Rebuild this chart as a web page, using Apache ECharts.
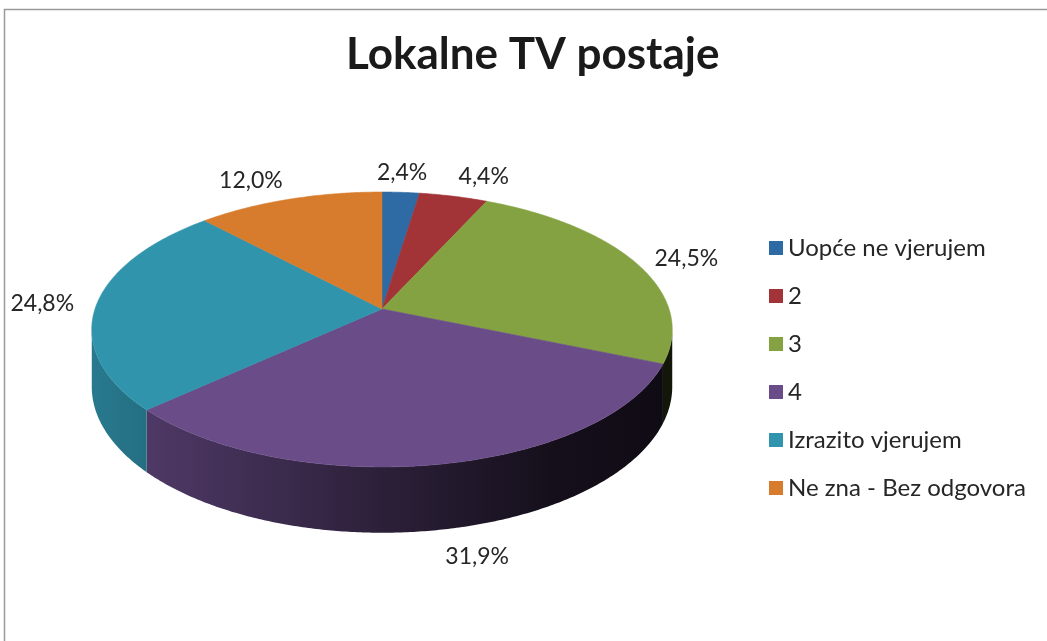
<!DOCTYPE html>
<html>
<head>
<meta charset="utf-8">
<script src="https://cdn.jsdelivr.net/npm/echarts@6/dist/echarts.min.js"></script>
<style>
  html, body { margin: 0; padding: 0; background: #fff; }
  #pie-chart { width: 1047px; height: 641px; }
</style>
</head>
<body>
<div id="pie-chart"></div>
<script>
// data
const categories = ['Uopće ne vjerujem', '2', '3', '4', 'Izrazito vjerujem', 'Ne zna - Bez odgovora'];
const shares = [2.4, 4.4, 24.5, 31.9, 24.8, 12.0];
const colors = ['#2E6AA3', '#A23337', '#84A242', '#694C88', '#3194AD', '#D77C2C'];

const total = shares.reduce((s, v) => s + v, 0);
const starts = shares.map((v, i) => shares.slice(0, i).reduce((s, x) => s + x, 0));

// fake 3d pie geometry (perspective tilted disk)
const CX = 382, CY = 309, RX = 287, RY = 134.4, PERSP = 0.149, DEPTH = 56;
const FONT = 'Lato, "Noto Sans", sans-serif';

function project(phiDeg, r) {
    const rad = phiDeg * Math.PI / 180;
    const u = r * Math.sin(rad);
    const v = -r * Math.cos(rad);
    const s = 1 / (1 - PERSP * v);
    return { x: CX + RX * u * s, y: CY + RY * v * s, s: s, u: u, v: v };
}

function shade(hex, f) {
    const n = parseInt(hex.slice(1), 16);
    const r = Math.round(((n >> 16) & 255) * f);
    const g = Math.round(((n >> 8) & 255) * f);
    const b = Math.round((n & 255) * f);
    return 'rgb(' + r + ',' + g + ',' + b + ')';
}

// silhouette of the rim, where the side wall starts being visible
const visFrom = Math.acos(-PERSP) * 180 / Math.PI;
const visTo = 360 - visFrom;

function makeRender(idx) {
    return function (params, api) {
        const val = api.value(0);
        const start = api.value(1);
        const a = start / total * 360;
        const b = (start + val) / total * 360;
        const color = colors[idx];
        const children = [];

        // outer side wall
        const wa = Math.max(a, visFrom), wb = Math.min(b, visTo);
        if (wb > wa) {
            const topPts = [], botPts = [];
            let p = wa;
            while (true) {
                const q = project(p, 1);
                topPts.push([q.x, q.y]);
                botPts.push([q.x, q.y + DEPTH * q.s]);
                if (p >= wb) break;
                p = Math.min(p + 0.5, wb);
            }
            const pts = topPts.concat(botPts.reverse());
            children.push({
                type: 'polygon',
                shape: { points: pts },
                style: {
                    fill: {
                        type: 'linear', x: CX - RX, y: 0, x2: CX + RX, y2: 0, global: true,
                        colorStops: [
                            { offset: 0, color: shade(color, 0.82) },
                            { offset: 0.5, color: shade(color, 0.42) },
                            { offset: 0.8, color: shade(color, 0.2) },
                            { offset: 1, color: shade(color, 0.14) }
                        ]
                    },
                    stroke: null
                }
            });
        }

        // top face
        const face = [[CX, CY]];
        for (let p = a; p < b; p += 0.5) {
            const q = project(p, 1);
            face.push([q.x, q.y]);
        }
        const qe = project(b, 1);
        face.push([qe.x, qe.y]);
        children.push({
            type: 'polygon',
            shape: { points: face },
            style: { fill: color, stroke: color, lineWidth: 0.6 }
        });

        // data label outside the slice
        const mid = (a + b) / 2;
        const lq = project(mid, 1.08);
        let ly = lq.y;
        if (mid > visFrom && mid < visTo) ly += DEPTH * lq.s;
        const align = lq.u > 0.15 ? 'left' : (lq.u < -0.15 ? 'right' : 'center');
        const vAlign = lq.v < -0.5 ? 'bottom' : (lq.v > 0.5 ? 'top' : 'middle');
        children.push({
            type: 'text',
            style: {
                text: val.toFixed(1).replace('.', ',') + '%',
                x: lq.x, y: ly,
                align: align, verticalAlign: vAlign,
                fontSize: 23, fontFamily: FONT, fill: '#262626'
            }
        });

        return { type: 'group', children: children };
    };
}

const pieChart = echarts.init(document.getElementById('pie-chart'), null, { renderer: 'canvas' });

const option = {
    animation: false,
    backgroundColor: '#fff',
    title: {
        text: 'Lokalne TV postaje',
        left: 346,
        top: 33,
        padding: 0,
        textStyle: { fontFamily: FONT, fontSize: 44, fontWeight: 'bold', color: '#1a1a1a' }
    },
    legend: {
        orient: 'vertical',
        left: 769,
        top: 236,
        padding: 0,
        icon: 'rect',
        itemWidth: 14,
        itemHeight: 14,
        itemGap: 24,
        selectedMode: false,
        textStyle: { fontFamily: FONT, fontSize: 24, color: '#262626', lineHeight: 24 },
        data: categories
    },
    graphic: [{
        type: 'rect',
        shape: { x: 4.5, y: 9.5, width: 1200, height: 800 },
        style: { fill: null, stroke: '#9a9a9a', lineWidth: 1.5 },
        silent: true
    }],
    series: categories.map((name, i) => ({
        type: 'custom',
        name: name,
        coordinateSystem: 'none',
        itemStyle: { color: colors[i] },
        data: [[shares[i], starts[i]]],
        renderItem: makeRender(i)
    }))
};

window.addEventListener('resize', function () {
    pieChart.resize();
});

option && pieChart.setOption(option);
</script>
</body>
</html>
